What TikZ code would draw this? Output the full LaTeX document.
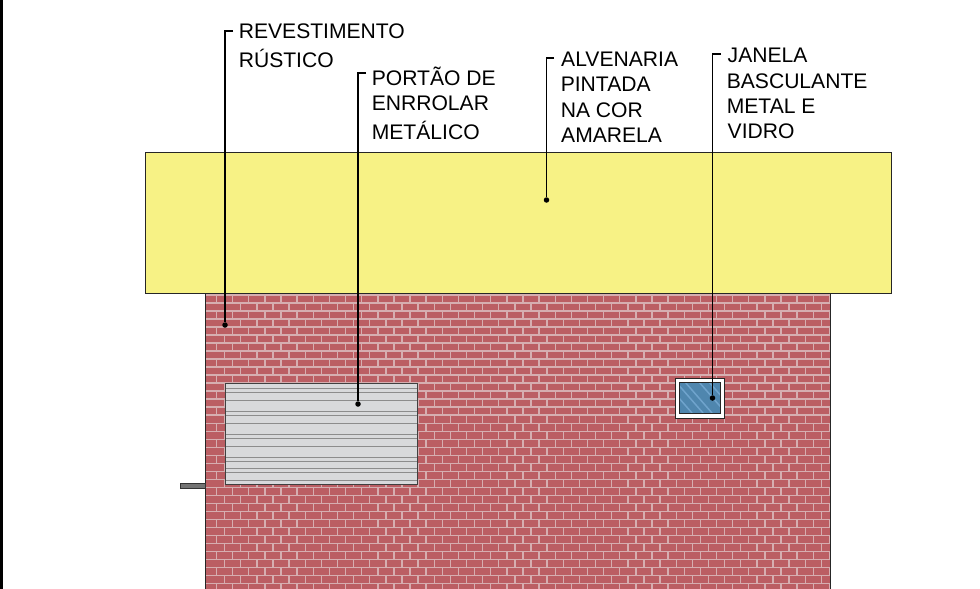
\documentclass[tikz,border=0pt]{standalone}
\usepackage{fontspec}
\setmainfont{Liberation Sans}
\definecolor{brick}{HTML}{BB5E63}
\definecolor{mortar}{HTML}{D6AEB0}
\definecolor{wallyellow}{HTML}{F7F285}
\definecolor{gatefill}{HTML}{D8D9DB}
\definecolor{glass}{HTML}{4F86AE}
\definecolor{streak}{HTML}{6FA3CC}
\tikzset{
  lbl/.style={anchor=base west,inner sep=0pt,font=\fontsize{21.1}{21.1}\selectfont,text=black},
  leader/.style={line width=1.8pt,black},
  tipdot/.style={circle,fill=black,inner sep=0pt,minimum size=5.5pt},
  outline/.style={draw=black!85,line width=1pt},
}
\begin{document}
\begin{tikzpicture}[x=1pt,y=-1pt]
\useasboundingbox (0,0) rectangle (980,589);
\fill[white] (0,0) rectangle (980,589);
\fill[black] (0,0) rectangle (3,589);
% wall
\begin{scope}
\clip (205.8,293) rectangle (830.8,589);
\fill[brick] (205.8,293) rectangle (830.8,589);
\foreach \r in {0,...,37}{
  \pgfmathsetmacro{\yy}{294.8+8.025*\r}
  \draw[mortar,line width=1.4pt] (205.8,\yy) -- (830.8,\yy);
  \pgfmathsetmacro{\off}{mod(\r,2)==1 ? 8.07 : 0}
  \foreach \c in {0,...,39}{
    \pgfmathsetmacro{\xx}{216.5+\off+16.13*\c}
    \draw[mortar,line width=1.4pt] (\xx,\yy) -- (\xx,\yy+8.025);
  }
}
\end{scope}
\draw[outline] (205.8,293) -- (205.8,589);
\draw[outline] (830.8,293) -- (830.8,589);
% fascia
\node[draw=black!85,line width=1pt,fill=wallyellow,anchor=north west,minimum width=746pt,minimum height=141pt,inner sep=0pt,outer sep=0pt] (fascia) at (145.5,152.5) {};
% gate
\fill[gatefill] (225.5,383.5) rectangle (417.5,484);
\foreach \y in {388,392.5,400.5,411.5,415.5,423.5,434.5,438.5,446,457,461,468.5,472.5,480}{
  \draw[black!45,line width=1pt] (225.5,\y) -- (417.5,\y);
}
\node[draw=black!75,line width=1pt,anchor=north west,minimum width=192pt,minimum height=100.5pt,inner sep=0pt,outer sep=0pt] (gate) at (225.5,383.5) {};
% window
\node[draw=black!85,line width=1pt,fill=white,anchor=north west,minimum width=49pt,minimum height=40pt,inner sep=0pt,outer sep=0pt] (winframe) at (675,378) {};
\begin{scope}
\clip (679.5,382.5) rectangle (720,413);
\fill[glass] (679.5,382.5) rectangle (720,413);
\foreach \s in {-14,-3,6,20,30}{
  \draw[streak,line width=1.5pt] (679+\s,382) -- ++(27,31);
}
\end{scope}
\draw[black!85,line width=1pt] (679.5,382.5) rectangle (720,413);
% sill element
\node[draw=black!80,line width=1pt,fill=black!55,anchor=north west,minimum width=25.5pt,minimum height=5pt,inner sep=0pt,outer sep=0pt] (stub) at (180,483.5) {};
% labels
\node[lbl] (revA) at (238.6,38.3) {REVESTIMENTO};
\node[lbl] (revB) at (238.6,67) {RÚSTICO};
\node[lbl] (porA) at (371.6,85.3) {PORTÃO DE};
\node[lbl] (porB) at (371.6,110.3) {ENRROLAR};
\node[lbl] (porC) at (371.6,139) {METÁLICO};
\node[lbl] (alvA) at (561,66.3) {ALVENARIA};
\node[lbl] (alvB) at (560.6,91.5) {PINTADA};
\node[lbl] (alvC) at (560.6,117.3) {NA COR};
\node[lbl] (alvD) at (561,142.3) {AMARELA};
\node[lbl] (janA) at (727.5,62.3) {JANELA};
\node[lbl] (janB) at (726.6,88.3) {BASCULANTE};
\node[lbl] (janC) at (726.6,113.3) {METAL E};
\node[lbl] (janD) at (727.5,138.3) {VIDRO};
% leaders
\node[tipdot] (dRev) at (225,325) {};
\node[tipdot] (dPor) at (358,404) {};
\node[tipdot] (dAlv) at (546.5,200) {};
\node[tipdot] (dJan) at (712.5,398) {};
\coordinate (sRev) at (233,31);
\coordinate (sPor) at (366,73);
\coordinate (sAlv) at (554,58);
\coordinate (sJan) at (721,54);
\draw[leader] (sRev) -| (dRev);
\draw[leader] (sPor) -| (dPor);
\draw[leader] (sAlv) -| (dAlv);
\draw[leader] (sJan) -| (dJan);
\end{tikzpicture}
\end{document}
